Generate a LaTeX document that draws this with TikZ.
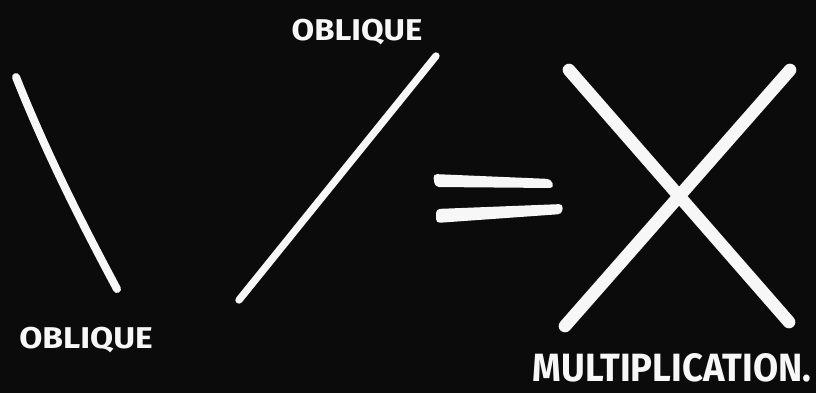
\documentclass[tikz,border=0pt]{standalone}
\usepackage{fontspec}
\newfontfamily\hand{Fira Sans}
\definecolor{bg}{HTML}{0B0B0B}
\definecolor{chalk}{HTML}{F7F7F7}
\tikzset{
  stroke/.style={draw=chalk, line cap=round, line join=round},
  lbl/.style={text=chalk, inner sep=0pt, font=\hand\bfseries}
}
\begin{document}
\begin{tikzpicture}[x=0.75pt,y=-0.75pt]
\fill[bg] (0,0) rectangle (816,393);
\useasboundingbox (0,0) rectangle (816,393);
% left oblique stroke
\draw[stroke, line width=6pt] (16,77) .. controls (45,150) and (80,220) .. (117,289);
% middle oblique stroke
\draw[stroke, line width=5.5pt] (436,56) -- (239,300);
% equals sign
\fill[chalk, rounded corners=3pt] (433,174) -- (551,179) -- (554,188) -- (435,187) -- cycle;
\fill[chalk, rounded corners=3pt] (436,209) -- (563,204) -- (562,214) -- (436,223) -- cycle;
% X
\draw[stroke, line width=9.5pt] (569,70) -- (789,322);
\draw[stroke, line width=9.5pt] (790,70) -- (565,326);
% labels
\node[lbl] (ob1) at (357,32) {\resizebox{98pt}{16pt}{OBLIQUE}};
\node[lbl] (ob2) at (86,340) {\resizebox{100pt}{16pt}{OBLIQUE}};
\node[lbl] (mul) at (672,368) {\resizebox{209pt}{21pt}{MULTIPLICATION.}};
\end{tikzpicture}
\end{document}
